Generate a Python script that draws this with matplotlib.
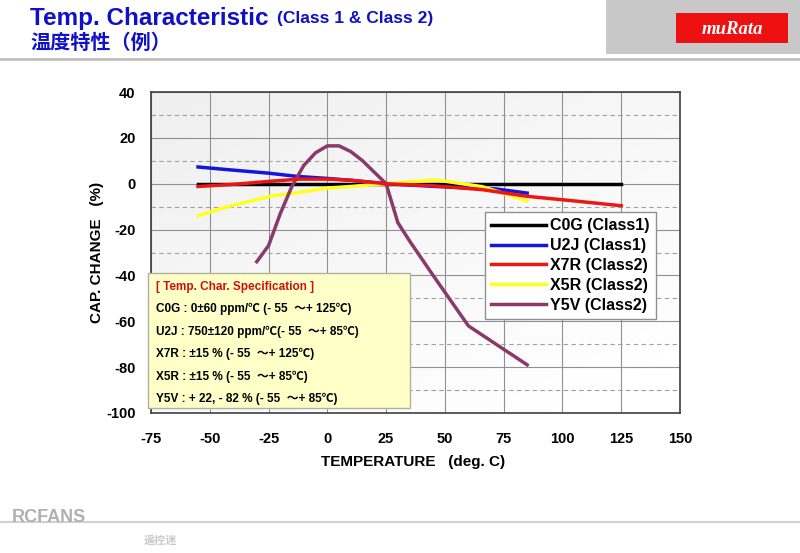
import numpy as np
import matplotlib
matplotlib.use('Agg')
from matplotlib import pyplot as plt
from matplotlib.patches import Rectangle

plt.rcParams['font.family'] = ['Liberation Sans', 'Noto Sans CJK SC', 'DejaVu Sans']
plt.rcParams['axes.unicode_minus'] = False

# data
c0g_t = [-55, 125]
c0g_c = [0, 0]

u2j_t = [-55, -42, -25, -13, 0, 10, 25, 46, 72, 85]
u2j_c = [7.3, 6.1, 4.6, 3.2, 2.3, 1.5, 0, -1.2, -2.3, -4.1]

x7r_t = [-55, -40, -25, -12, 0, 10, 25, 45, 66, 85, 105, 125]
x7r_c = [-1.2, -0.3, 1.0, 2.0, 2.0, 1.5, 0, -0.9, -2.6, -5.5, -7.5, -9.6]

x5r_t = [-55, -42, -23, -13, 0, 10, 25, 46, 66, 85]
x5r_c = [-14, -9.9, -5.2, -4.0, -1.9, -1.2, 0, 1.7, -1.3, -7.5]

y5v_t = [-30, -25, -20, -15, -10, -5, 0, 5, 10, 15, 20, 25, 30, 35, 45, 60, 85]
y5v_c = [-34, -27, -13, -1, 8, 13.5, 16.5, 16.5, 14, 10, 5, 0, -17, -25, -40, -62, -79]

spec_lines = ['C0G : 0±60 ppm/℃ (- 55  ～+ 125℃)',
              'U2J : 750±120 ppm/℃(- 55  ～+ 85℃)',
              'X7R : ±15 % (- 55  ～+ 125℃)',
              'X5R : ±15 % (- 55  ～+ 85℃)',
              'Y5V : + 22, - 82 % (- 55  ～+ 85℃)']

W, H = 800, 553
fig = plt.figure(figsize=(8, 5.53), dpi=100)
fig.patch.set_facecolor('white')

# header
fig.text(30 / W, 1 - 18 / H, 'Temp. Characteristic', color='#1010c8', fontsize=17.5,
         fontweight='bold', va='center', ha='left')
fig.text(277 / W, 1 - 19 / H, '(Class 1 & Class 2)', color='#1010c8', fontsize=12.5,
         fontweight='bold', va='center', ha='left')
fig.text(30 / W, 1 - 43 / H, '温度特性（例）', color='#1010c8', fontsize=14.5,
         fontweight='bold', va='center', ha='left')
fig.patches.append(Rectangle((606 / W, 1 - 54 / H), 194 / W, 54 / H, transform=fig.transFigure,
                             facecolor='#c8c8c8', edgecolor='none'))
fig.patches.append(Rectangle((676 / W, 1 - 43 / H), 112 / W, 30 / H, transform=fig.transFigure,
                             facecolor='#ee1111', edgecolor='none'))
fig.text(732 / W, 1 - 29 / H, 'muRata', color='white', fontsize=13.5, fontweight='bold',
         style='italic', family='Liberation Serif', va='center', ha='center')
fig.add_artist(plt.Line2D([0, 1], [1 - 59 / H, 1 - 59 / H], color='#c0c0c0', lw=2))
fig.add_artist(plt.Line2D([0, 1], [1 - 522 / H, 1 - 522 / H], color='#d0d0d0', lw=1.5))
fig.text(12 / W, 1 - 518 / H, 'RCFANS', color='#b0b0b0', fontsize=13, fontweight='bold',
         va='center', ha='left')
fig.text(160 / W, 1 - 540 / H, '遥控迷', color='#c8c8c8', fontsize=8, fontweight='bold',
         va='center', ha='center')

ax = fig.add_axes([151 / W, 1 - 413 / H, 529 / W, 321 / H])
ax.set_xlim(-75, 150)
ax.set_ylim(-100, 40)

# light gray gradient background, fading to white at the lower right
gx, gy = np.meshgrid(np.linspace(0, 1, 200), np.linspace(0, 1, 200))
grad = np.clip(0.6 * gy + 0.5 * gx, 0, 1)
ax.imshow(grad, extent=[-75, 150, -100, 40], aspect='auto', cmap='Greys_r',
          vmin=-6.5, vmax=1.0, origin='upper', zorder=0)

ax.set_xticks(np.arange(-75, 151, 25))
ax.set_yticks(np.arange(-100, 41, 20))
ax.set_yticks(np.arange(-90, 40, 20), minor=True)
ax.grid(which='major', color='#909090', lw=0.8, zorder=1)
ax.grid(which='minor', axis='y', color='#a0a0a0', lw=0.8, ls=(0, (4, 3)), zorder=1)
ax.tick_params(which='both', length=0)
ax.tick_params(axis='x', labelsize=10.5, pad=14)
ax.tick_params(axis='y', labelsize=10.5, pad=11)
for lab in ax.get_xticklabels() + ax.get_yticklabels():
    lab.set_fontweight('bold')
for s in ax.spines.values():
    s.set_color('#404040')
    s.set_linewidth(1.2)

ax.plot(c0g_t, c0g_c, color='black', lw=2.5, label='C0G (Class1)', zorder=3)
ax.plot(u2j_t, u2j_c, color='#1515e0', lw=2.5, label='U2J (Class1)', zorder=3)
ax.plot(x7r_t, x7r_c, color='#ee1515', lw=2.5, label='X7R (Class2)', zorder=4)
ax.plot(x5r_t, x5r_c, color='#ffff22', lw=2.5, label='X5R (Class2)', zorder=3)
ax.plot(y5v_t, y5v_c, color='#8a3a6a', lw=2.5, label='Y5V (Class2)', zorder=3)

leg = ax.legend(loc='upper left', bbox_to_anchor=((485 - 151) / 529, (413 - 212) / 321),
                borderaxespad=0, frameon=True, fancybox=False, edgecolor='#909090',
                framealpha=1, handlelength=3.4, handletextpad=0.3, labelspacing=0.3,
                borderpad=0.4, prop={'weight': 'bold', 'size': 11.5})
leg.get_frame().set_linewidth(1)
leg.set_zorder(6)

ax.set_xlabel('TEMPERATURE   (deg. C)', fontsize=11, fontweight='bold')
ax.set_ylabel('CAP. CHANGE   (%)', fontsize=11, fontweight='bold')
ax.xaxis.set_label_coords((413 - 151) / 529, -(462 - 413) / 321)
ax.yaxis.set_label_coords((97 - 151) / 529, (413 - 252) / 321)
ax.xaxis.label.set_va('center')
ax.yaxis.label.set_va('center')

# spec box
fig.patches.append(Rectangle((148 / W, 1 - 408 / H), 262 / W, 135 / H, transform=fig.transFigure,
                             facecolor='#ffffc8', edgecolor='#b0b0a0', lw=1, zorder=5))
fig.text(156 / W, 1 - 287 / H, '[ Temp. Char. Specification ]', color='#cc1111', fontsize=8.5,
         fontweight='bold', va='center', ha='left', zorder=6)
for i, line in enumerate(spec_lines):
    fig.text(156 / W, 1 - (309 + 22.5 * i) / H, line, color='black', fontsize=8.5,
             fontweight='bold', va='center', ha='left', zorder=6)

fig.savefig('out.png', dpi=100)
